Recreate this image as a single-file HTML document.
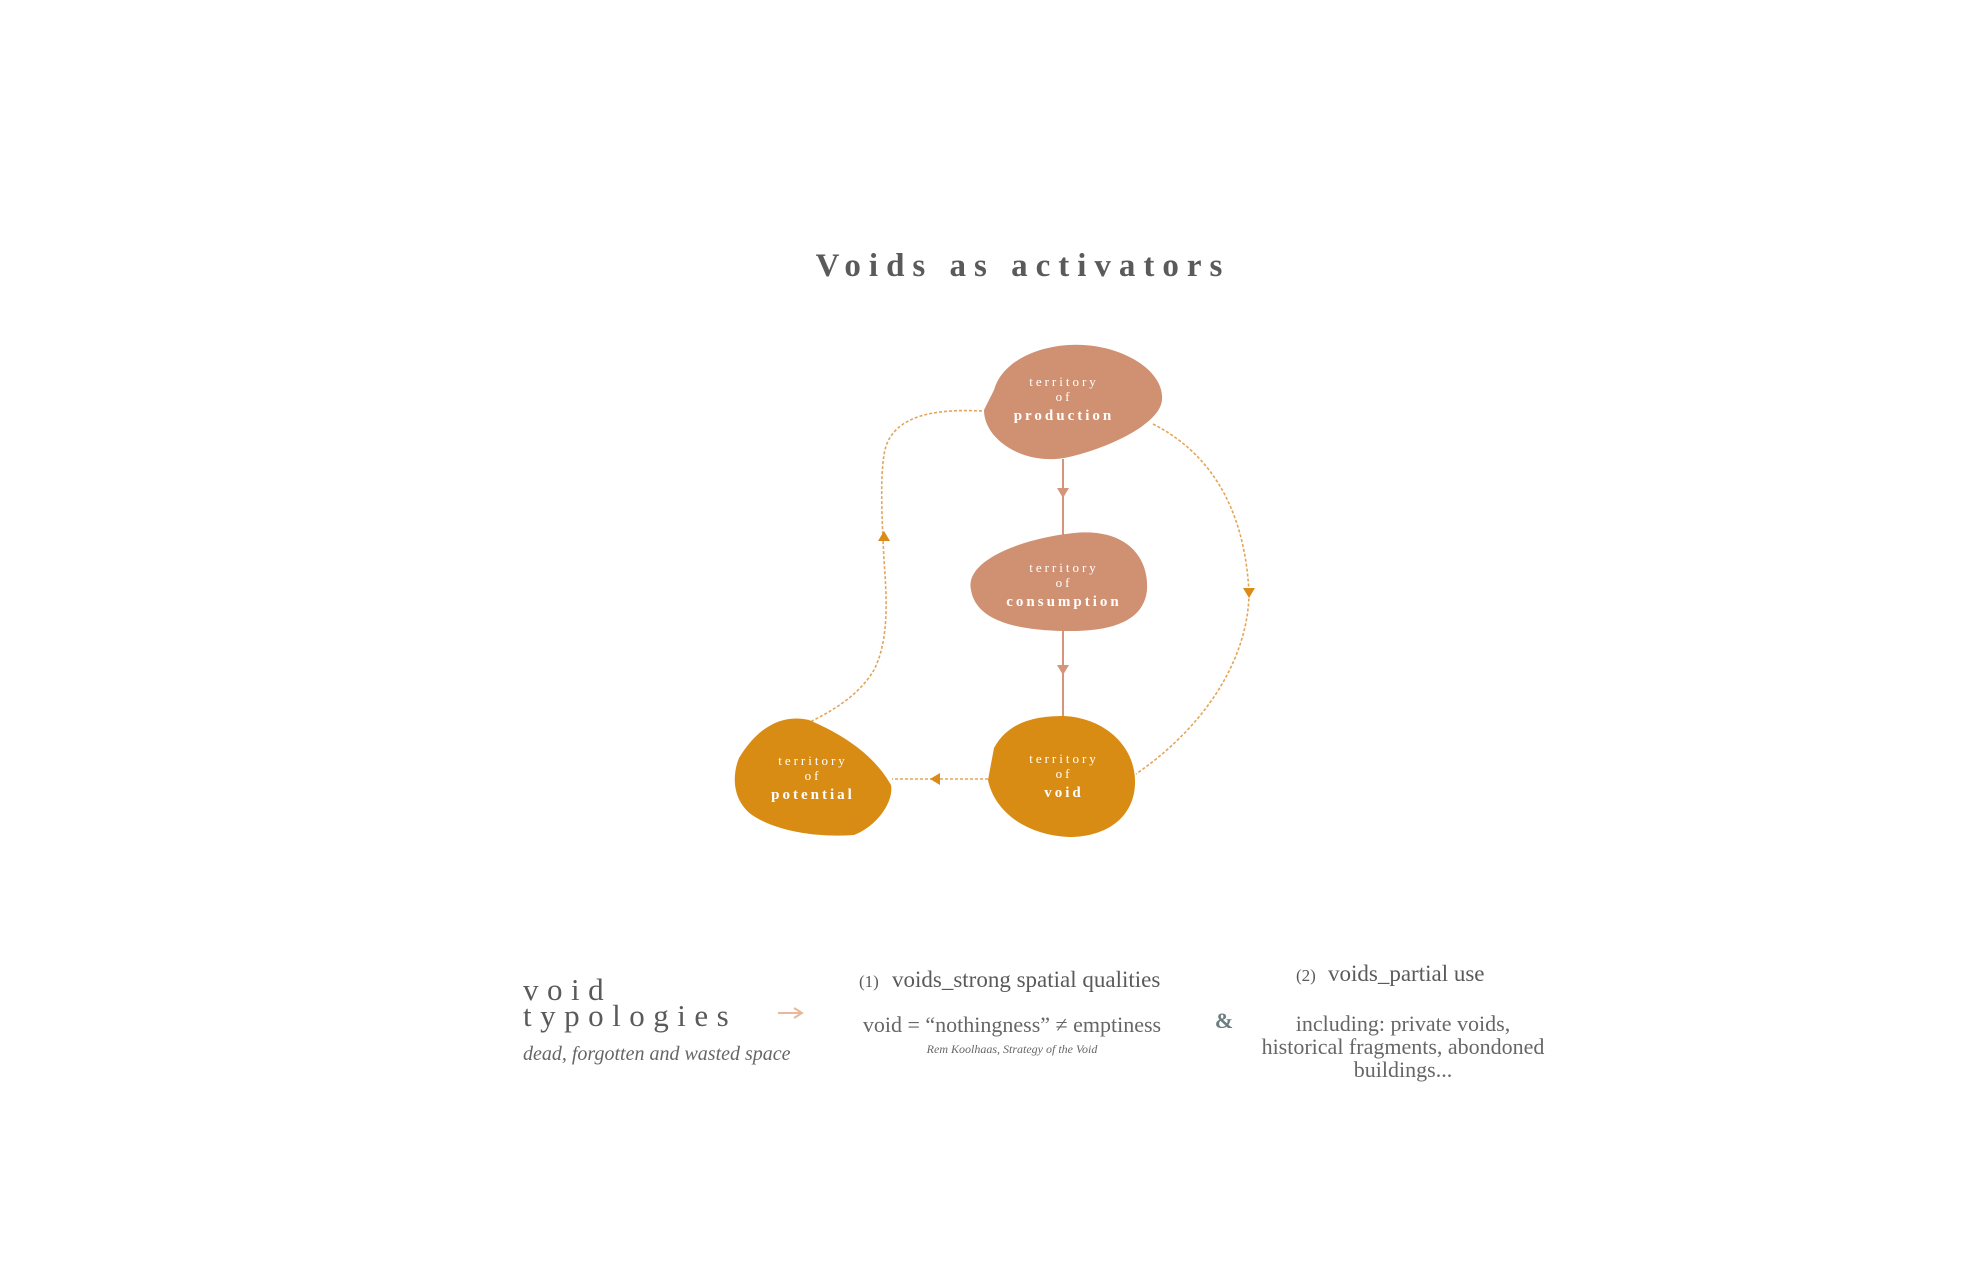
<!DOCTYPE html>
<html><head><meta charset="utf-8"><style>
html,body{margin:0;padding:0;background:#fff;}
body{width:1974px;height:1283px;overflow:hidden;position:relative;font-family:"Liberation Serif",serif;}
svg{position:absolute;left:0;top:0;}
</style></head><body>
<svg width="1974" height="1283" viewBox="0 0 1974 1283" font-family="Liberation Serif, serif">
<text x="1023" y="276" text-anchor="middle" font-size="33" font-weight="bold" fill="#5a5a5a" letter-spacing="8">Voids as activators</text>

<g transform="translate(-6,0)">
<line x1="1069" y1="459" x2="1069" y2="535" stroke="#d4957a" stroke-width="2"/>
<polygon points="1063,488 1075,488 1069,498" fill="#d4957a"/>
<line x1="1069" y1="630" x2="1069" y2="718" stroke="#d4957a" stroke-width="2"/>
<polygon points="1063,665 1075,665 1069,675" fill="#d4957a"/>
<g fill="none" stroke="#e4a55a" stroke-width="1.6" stroke-dasharray="3,2">
<path d="M988,411 C930,408 895,420 890,455 C886,480 888,520 890,560 C893,600 895,640 880,670 C865,695 840,710 816,722"/>
<path d="M1159,424 C1210,450 1250,500 1255,592 C1255,650 1220,720 1142,774"/>
<path d="M994,779 L898,779"/>
</g>
<polygon points="884,541 896,541 890,531" fill="#d98c17"/>
<polygon points="1249,588 1261,588 1255,598" fill="#d98c17"/>
<polygon points="946,773 946,785 936,779" fill="#d98c17"/>

<path d="M1000,390 C1010,355 1060,340 1100,346 C1140,352 1170,375 1168,400 C1166,425 1110,450 1070,458 C1030,465 990,440 990,410 Z" fill="#d09072"/>
<path d="M977,590 C970,560 1030,538 1080,533 C1130,528 1155,555 1153,590 C1150,620 1120,632 1070,631 C1020,630 982,620 977,590 Z" fill="#d09072"/>
<path d="M1000,748 C1015,720 1045,716 1070,716 C1110,718 1140,745 1141,780 C1142,815 1115,837 1075,837 C1030,835 1000,810 994,780 Z" fill="#d98c14"/>
<path d="M745,758 C765,725 790,714 815,720 C850,735 880,755 897,785 C900,800 885,825 860,835 C820,838 780,830 758,815 C738,800 738,775 745,758 Z" fill="#d98c14"/>

<g fill="#fff" text-anchor="middle" letter-spacing="3">
<text x="1070" y="386" font-size="13">territory</text>
<text x="1070" y="401" font-size="13">of</text>
<text x="1070" y="420" font-size="15" font-weight="bold">production</text>
<text x="1070" y="572" font-size="13">territory</text>
<text x="1070" y="587" font-size="13">of</text>
<text x="1070" y="606" font-size="15" font-weight="bold">consumption</text>
<text x="1070" y="763" font-size="13">territory</text>
<text x="1070" y="778" font-size="13">of</text>
<text x="1070" y="797" font-size="15" font-weight="bold">void</text>
<text x="819" y="765" font-size="13">territory</text>
<text x="819" y="780" font-size="13">of</text>
<text x="819" y="799" font-size="15" font-weight="bold">potential</text>
</g>
</g>

<g fill="#5a5a5a">
<text x="523" y="1000" font-size="31" letter-spacing="8.5">void</text>
<text x="523" y="1026" font-size="31" letter-spacing="8.5">typologies</text>
<text x="523" y="1060" font-size="20" font-style="italic" fill="#666">dead, forgotten and wasted space</text>
<text x="859" y="987" font-size="17">(1)</text>
<text x="892" y="987" font-size="23">voids_strong spatial qualities</text>
<text x="1012" y="1032" font-size="22" text-anchor="middle" fill="#666">void = “nothingness” ≠ emptiness</text>
<text x="1012" y="1053" font-size="12" font-style="italic" text-anchor="middle" fill="#666">Rem Koolhaas, Strategy of the Void</text>
<text x="1224" y="1028" font-size="22" font-weight="bold" text-anchor="middle" fill="#6a7d80">&amp;</text>
<text x="1296" y="981" font-size="17">(2)</text>
<text x="1328" y="981" font-size="23">voids_partial use</text>
<g font-size="22" text-anchor="middle" fill="#666">
<text x="1403" y="1031">including: private voids,</text>
<text x="1403" y="1054">historical fragments, abondoned</text>
<text x="1403" y="1077">buildings...</text>
</g>
</g>
<line x1="778" y1="1013" x2="800" y2="1013" stroke="#e8b79c" stroke-width="2"/>
<polyline points="794,1008 802,1013 794,1018" fill="none" stroke="#e8b79c" stroke-width="2"/>
</svg>
</body></html>
